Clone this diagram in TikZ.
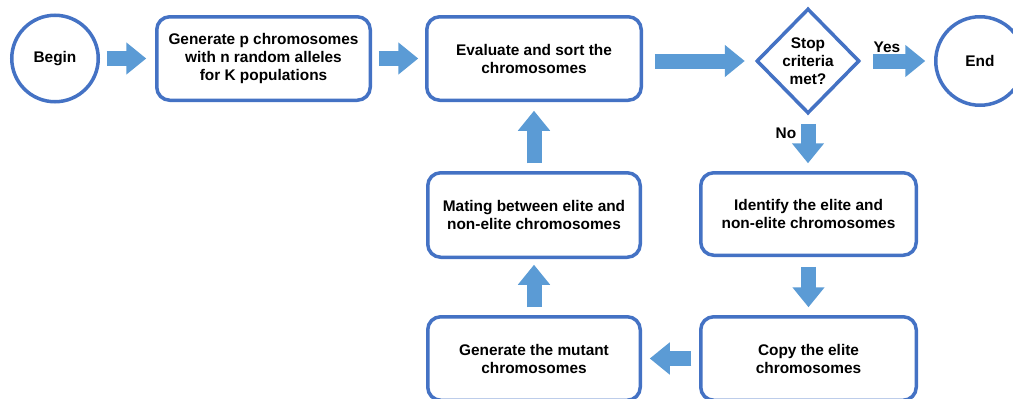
\documentclass[tikz,border=0pt]{standalone}
\usepackage{fontspec}
\setmainfont{Liberation Sans}
\usetikzlibrary{shapes.geometric,arrows.meta}
\definecolor{boxblue}{RGB}{68,114,196}
\definecolor{arrowblue}{RGB}{91,155,213}
\tikzset{
  x=1pt, y=-1pt,
  txt/.style={font=\fontsize{15.4}{18}\selectfont\bfseries, align=center, text=black},
  procbox/.style={txt, draw=boxblue, line width=3.5pt, rounded corners=13pt, fill=white, inner sep=0pt},
  termcircle/.style={txt, draw=boxblue, line width=3.5pt, circle, fill=white, inner sep=0pt},
  decision/.style={draw=boxblue, line width=3.5pt, diamond, fill=white, inner sep=0pt},
  blockarrow/.style={draw=arrowblue, line width=15pt, -{Triangle[length=20pt,width=31pt]}},
}
\begin{document}
\begin{tikzpicture}
\useasboundingbox (0,0) rectangle (1013,399);
% nodes
\node[termcircle, minimum size=86.5pt] (begin) at (55,58.5) {Begin};
\node[procbox, minimum width=213.5pt, minimum height=83.5pt] (gen) at (263.5,58.5) {Generate p chromosomes\\with n random alleles\\for K populations};
\node[procbox, minimum width=214.5pt, minimum height=83.5pt] (eval) at (534,58.5) {Evaluate and sort the\\chromosomes};
\node[decision, minimum width=103pt, minimum height=105pt] (stop) at (808,61) {};
\node[txt] (stoptxt) at (stop.center) {Stop\\criteria\\met?};
\node[termcircle, minimum size=88.5pt] (end) at (980,61) {End};
\node[procbox, minimum width=212.5pt, minimum height=84.5pt] (mate) at (534,215) {Mating between elite and\\non-elite chromosomes};
\node[procbox, minimum width=215.5pt, minimum height=82.5pt] (ident) at (808.5,214) {Identify the elite and\\non-elite chromosomes};
\node[procbox, minimum width=212.5pt, minimum height=83.5pt] (mut) at (534,358.5) {Generate the mutant\\chromosomes};
\node[procbox, minimum width=215.5pt, minimum height=83.5pt] (copy) at (808.5,358.5) {Copy the elite\\chromosomes};
% labels
\node[txt] (yes) at (887,47) {Yes};
\node[txt] (no) at (786,133) {No};
% connectors
\draw[blockarrow, shorten <=6.75pt, shorten >=8.75pt] (begin.east) -- (gen.west);
\draw[blockarrow, shorten <=6.75pt, shorten >=6.75pt] (gen.east) -- (eval.west);
\draw[blockarrow, shorten <=11.75pt, shorten >=10pt] (eval.east |- stop.west) -- (stop.west);
\draw[blockarrow, shorten <=12pt, shorten >=8.75pt] (stop.east) -- (stop.east -| end.west);
\draw[blockarrow, shorten <=8.5pt, shorten >=7.75pt] (stop.south) -- (stop.south |- ident.north);
\draw[blockarrow, shorten <=9.75pt, shorten >=7.75pt] (ident.south) -- (copy.north);
\draw[blockarrow, shorten <=7.75pt, shorten >=7.75pt] (copy.west) -- (mut.east);
\draw[blockarrow, shorten <=7.75pt, shorten >=5.75pt] (mut.north) -- (mate.south);
\draw[blockarrow, shorten <=7.75pt, shorten >=8.75pt] (mate.north) -- (eval.south);
\end{tikzpicture}
\end{document}
